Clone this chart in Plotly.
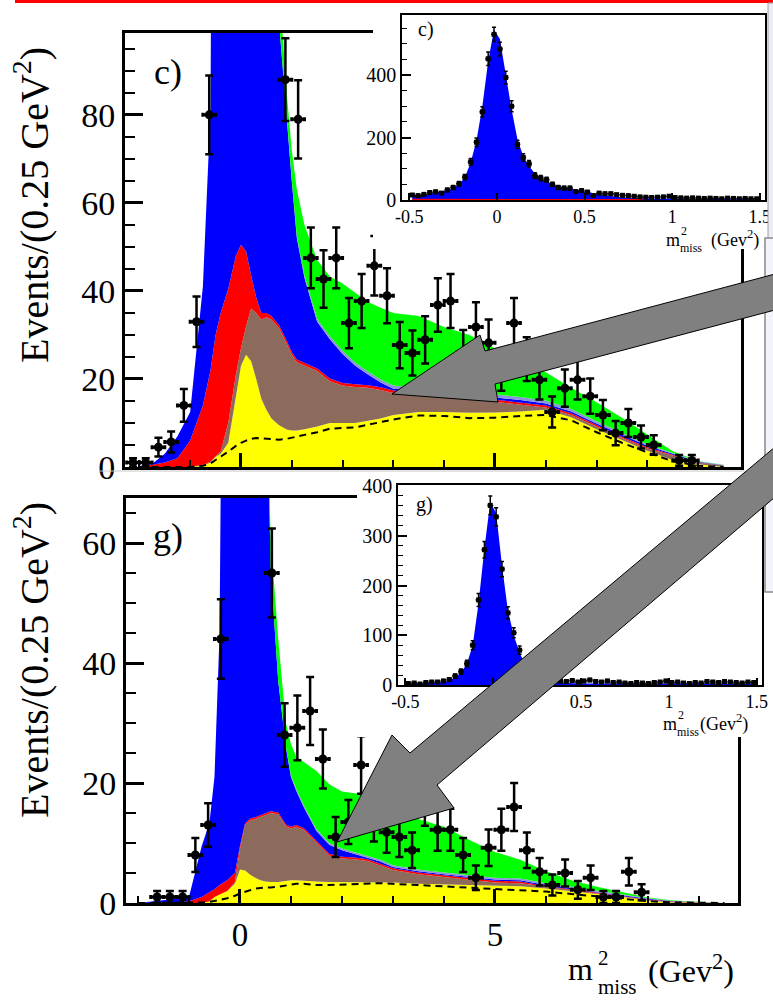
import plotly.graph_objects as go
import numpy as np

W, H = 773, 1001
def fx(p): return p / W
def fy(p): return 1 - p / H

# ---------------- main panels: model components (cumulative stack tops) ----------------
grid_x = [-2.0, -1.75, -1.5, -1.25, -1.0, -0.75, -0.6, -0.5, -0.4, -0.25, -0.1, 0.0, 0.1, 0.2, 0.3,
          0.4, 0.5, 0.6, 0.75, 0.9, 1.0, 1.1, 1.25, 1.5, 1.75, 2.0, 2.25, 2.5, 2.75, 3.0, 3.5, 4.0,
          4.5, 5.0, 5.5, 6.0, 6.5, 7.0, 7.5, 8.0, 8.5, 9.0, 9.5]

# panel c)
c_yellow = [0, 0, 0, 0, 0, 0.3, 1.0, 2.3, 3.0, 5.5, 16, 23, 25.5, 24, 20, 15.5, 13, 11, 9.5, 8.5, 8.3,
            8.3, 8.6, 9.2, 10, 10, 10, 10.5, 11, 11.8, 12.5, 12.5, 12.3, 12.4, 12.6, 13, 11.3, 8.6,
            6.2, 3.7, 1.6, 0.6, 0]
c_brown = [0, 0, 0, 0, 0, 0.5, 1.2, 2.5, 3.5, 10, 21, 27, 32, 36, 35, 33.5, 34, 33.5, 31.5, 28, 25.5,
           23.8, 23, 21.8, 19.5, 18.5, 18.2, 18, 17.5, 16.8, 16.3, 16.1, 15.8, 14.8, 14.2, 13.5, 11.8,
           9.2, 6.6, 4.2, 2.6, 1.0, 0.3]
c_red = [0, 0.5, 1, 2, 6, 14, 22, 30, 35, 40.5, 48, 50.5, 49, 43.5, 38.5, 35, 35, 34.3, 32.2, 28.7,
         26.1, 24.4, 23.6, 22.4, 20.1, 19.1, 18.8, 18.6, 18.1, 17.4, 16.9, 16.7, 16.4, 15.3, 14.7,
         14.0, 12.2, 9.5, 6.9, 4.5, 2.8, 1.1, 0.35]
c_blue = [0.2, 0.7, 3, 7, 12.5, 41, 81, 160, 300, 700, 1300, 1500, 1400, 1100, 800, 500, 300, 180,
          101, 79, 65, 52, 43, 33, 29, 25.7, 23, 21, 19.2, 17.8, 17.3, 17.1, 16.8, 15.8, 15.2, 14.4,
          12.6, 9.9, 7.3, 4.8, 3.0, 1.2, 0.4]
c_band = [0.2, 0.7, 3, 7, 12.5, 41, 81, 160, 300, 700, 1300, 1500, 1400, 1100, 800, 500, 300, 180,
          101, 79, 65.3, 52.4, 43.5, 33.6, 29.7, 26.4, 23.7, 21.7, 19.9, 18.5, 18.0, 17.8, 17.5,
          16.5, 15.9, 15.1, 13.2, 10.4, 7.7, 5.1, 3.2, 1.3, 0.45]
c_green = [0.2, 0.7, 3, 7, 12.5, 41, 81, 160, 300, 700, 1300, 1500, 1400, 1100, 800, 500, 300, 180,
           110, 85, 72, 63, 55, 47, 43.3, 41.7, 39.6, 37.5, 36.2, 35, 34.3, 31.8, 30, 27, 24.5, 21.5,
           18, 14.7, 11.2, 7.3, 3.6, 1.35, 0.5]
c_dash = [0, 0, 0, 0, 0, 0.3, 0.8, 1.6, 2.3, 3.5, 4.8, 5.5, 6.0, 6.4, 6.6, 6.5, 6.4, 6.2, 6.2, 6.4,
          6.6, 6.9, 7.3, 7.9, 8.7, 8.9, 9.0, 9.6, 10.2, 10.8, 11.7, 11.6, 11.1, 11.2, 11.6, 11.8,
          10.6, 7.9, 5.5, 3.3, 1.3, 0.3, 0]

# panel g)
g_yellow = [0, 0, 0, 0, 0, 0, 0.3, 1.0, 1.4, 2.0, 3.2, 5.6, 5.4, 4.7, 4.2, 3.8, 3.6, 3.5, 3.5, 3.7,
            3.8, 3.8, 3.7, 3.6, 3.5, 3.5, 3.5, 3.5, 3.5, 3.4, 3.2, 3.1, 3.0, 2.9, 2.8, 2.4, 2.0, 1.5,
            1.0, 0.4, 0.1, 0, 0]
g_brown = [0, 0, 0, 0, 0, 0, 0.3, 1.0, 1.4, 2.0, 3.5, 9, 13, 13.8, 14, 14.3, 14.6, 15, 14.8, 12.8,
           12.4, 12.7, 12.2, 10, 7.9, 7.4, 7.3, 7, 6.3, 5.5, 4.8, 4.3, 3.8, 3.4, 3.3, 2.7, 2.2, 1.6,
           1.1, 0.5, 0.15, 0.05, 0]
g_red = [0, 0, 0, 0.1, 0.3, 1.0, 1.8, 2.3, 3.0, 3.8, 5.0, 9.5, 13.3, 14.1, 14.3, 14.6, 14.9, 15.3,
         15.1, 13.1, 12.7, 13.0, 12.5, 10.3, 8.2, 7.7, 7.6, 7.3, 6.6, 5.8, 5.1, 4.6, 4.1, 3.7, 3.6,
         2.8, 2.3, 1.7, 1.2, 0.6, 0.25, 0.1, 0]
g_blue = [0, 0.2, 0.4, 0.7, 1.0, 9.5, 13.3, 21, 45, 150, 400, 550, 600, 500, 350, 200, 100, 56, 37,
          26, 21, 18.8, 16, 12, 9.7, 8.8, 8.2, 7.6, 6.9, 6.0, 5.3, 4.8, 4.3, 3.9, 3.8, 3.0, 2.45,
          1.8, 1.3, 0.7, 0.3, 0.12, 0]
g_band = [0, 0.2, 0.4, 0.7, 1.0, 9.5, 13.3, 21, 45, 150, 400, 550, 600, 500, 350, 200, 100, 56, 37,
          26, 21.3, 19.1, 16.3, 12.3, 10.0, 9.1, 8.5, 7.9, 7.2, 6.3, 5.6, 5.1, 4.6, 4.2, 4.1, 3.3,
          2.7, 2.05, 1.5, 0.8, 0.35, 0.13, 0]
g_green = [0, 0.2, 0.4, 0.7, 1.0, 9.5, 13.3, 21, 45, 150, 400, 550, 600, 500, 350, 200, 100, 61, 44,
           30, 26.5, 24.5, 23.5, 22, 19.8, 18.6, 18.3, 18.2, 17.5, 16.2, 14, 12.7, 10.5, 8.5, 7.2,
           5.3, 3.8, 2.7, 1.8, 0.9, 0.4, 0.15, 0]
g_dash = [0, 0, 0, 0, 0, 0.1, 0.2, 0.3, 0.5, 0.8, 1.2, 1.6, 1.9, 2.2, 2.4, 2.5, 2.5, 2.6, 2.7, 2.9,
          3.1, 3.2, 3.2, 3.0, 3.0, 3.1, 3.2, 3.3, 3.3, 3.2, 3.0, 2.8, 2.6, 2.4, 2.2, 1.9, 1.5, 1.1,
          0.7, 0.3, 0.1, 0, 0]

# ---------------- main panels: data points (events / 0.25 GeV^2) ----------------
c_x = [-2.125, -1.875, -1.625, -1.375, -1.125, -0.875, -0.625, -0.375, -0.125, 0.125, 0.375, 0.625,
       0.875, 1.125, 1.375, 1.625, 1.875, 2.125, 2.375, 2.625, 2.875, 3.125, 3.375, 3.625, 3.875,
       4.125, 4.375, 4.625, 4.875, 5.125, 5.375, 5.625, 5.875, 6.125, 6.375, 6.625, 6.875, 7.125,
       7.375, 7.625, 7.875, 8.125, 8.625, 8.875]
c_y = [1, 1, 4.5, 5.7, 14, 33, 80, 190, 780, 820, 330, 140, 88, 79, 47.5, 42.7, 47.5, 32.7, 37.7,
       45.7, 38.9, 27.7, 25.9, 28.9, 36.8, 37.7, 26, 31.8, 28.2, 22, 32.7, 24.5, 19.8, 12.5, 17.9,
       19.8, 16.1, 11.8, 7.7, 10, 6.8, 5, 1.5, 1.5]
g_x = [-1.625, -1.375, -1.125, -0.875, -0.625, -0.375, -0.125, 0.125, 0.375, 0.625, 0.875, 1.125,
       1.375, 1.625, 1.875, 2.125, 2.375, 2.625, 2.875, 3.125, 3.375, 3.625, 3.875, 4.125, 4.375,
       4.625, 4.875, 5.125, 5.375, 5.625, 5.875, 6.125, 6.375, 6.625, 6.875, 7.125, 7.375, 7.625,
       7.875]
g_y = [1, 1, 1, 8, 13, 44, 320, 450, 160, 55, 28, 29.2, 32, 24, 11, 13.5, 23, 14, 11.8, 11, 8.8, 17,
       12.2, 12.2, 8, 4.2, 9.2, 12.2, 16, 8.8, 5.2, 3, 5, 2.2, 4.2, 1, 1, 5.2, 1.8]

# ---------------- insets (fine binning) ----------------
ins_x = list(np.round(np.arange(60) * (2.0 / 60) - 0.5 + 1.0 / 60, 4))
ins_c_y = [16, 14, 18, 24, 26, 22, 32, 40, 52, 73,
           122, 185, 282, 452, 530, 483, 392, 300, 178, 136,
           116, 78, 70, 65, 50, 40, 38, 38, 27, 30,
           25, 14, 22, 20, 20, 17, 15, 14, 12, 10,
           9, 8, 9, 10, 12, 8, 7, 6, 7, 6,
           5, 6, 5, 4, 6, 5, 4, 5, 4, 4]
ins_c_model = [14, 15, 17, 20, 23, 26, 31, 38, 50, 72,
               120, 190, 300, 445, 545, 515, 400, 290, 195, 140,
               108, 85, 70, 60, 50, 44, 40, 36, 32, 28,
               24, 21, 18, 15, 12, 10, 8, 7, 6, 6,
               5, 5, 4, 4, 4, 3, 3, 3, 3, 3,
               3, 2, 2, 2, 2, 2, 2, 2, 2, 2]
ins_c_bkg = [4, 4, 4, 4, 4, 4, 4, 4, 4, 4,
             4, 4, 4, 4, 4, 4, 4, 4, 4, 4,
             4, 4, 4, 4, 4, 4, 4, 4, 4, 4,
             3, 3, 3, 3, 3, 3, 3, 3, 3, 3,
             0, 0, 0, 0, 0, 0, 0, 0, 0, 0,
             0, 0, 0, 0, 0, 0, 0, 0, 0, 0]
ins_g_y = [3, 4, 2, 5, 6, 6, 8, 11, 18, 27,
           43, 80, 171, 272, 361, 338, 233, 145, 105, 70,
           42, 26, 18, 13, 10, 9, 8, 7, 9, 6,
           8, 10, 7, 6, 8, 5, 6, 4, 3, 5,
           4, 3, 5, 6, 8, 5, 6, 4, 3, 5,
           4, 7, 6, 5, 7, 6, 5, 4, 6, 5]
ins_g_model = [3, 3, 3, 4, 4, 5, 6, 9, 15, 25,
               42, 80, 165, 275, 368, 345, 240, 150, 100, 65,
               40, 25, 16, 11, 8, 6, 5, 4, 4, 3,
               3, 3, 3, 3, 3, 3, 3, 3, 3, 3,
               3, 3, 3, 3, 3, 3, 3, 3, 3, 3,
               3, 3, 3, 3, 3, 3, 3, 3, 3, 3]
ins_ticks = [-0.5, 0, 0.5, 1, 1.5]
ins_ticktext = ['-0.5', '0', '0.5', '1', '1.5']

FONT = 'Liberation Serif'
COLORS = {'yellow': '#ffff00', 'brown': '#8c6b5c', 'red': '#ff0000', 'blue': '#0000ff',
          'band': '#8c96d6', 'green': '#00ff00'}

fig = go.Figure()

def add_main(xa, ya, comps, dash, px_, py_):
    first = True
    for name, vals in comps:
        fig.add_trace(go.Scatter(x=grid_x, y=vals, mode='lines', line=dict(width=0),
                                 fill='tozeroy' if first else 'tonexty', fillcolor=COLORS[name],
                                 xaxis=xa, yaxis=ya, hoverinfo='skip'))
        first = False
    fig.add_trace(go.Scatter(x=grid_x, y=dash, mode='lines',
                             line=dict(color='black', width=2, dash='7px,5px'),
                             xaxis=xa, yaxis=ya, hoverinfo='skip'))
    fig.add_trace(go.Scatter(x=px_, y=py_, mode='markers',
                             marker=dict(color='black', size=9, symbol='circle'),
                             error_y=dict(type='sqrt', color='black', thickness=2.5, width=4),
                             error_x=dict(type='constant', value=0.125, color='black', thickness=3, width=2),
                             xaxis=xa, yaxis=ya, hoverinfo='skip'))

def add_cover(xa, ya):
    fig.add_trace(go.Scatter(x=[0, 1, 1, 0, 0], y=[0, 0, 1, 1, 0], mode='lines', fill='toself',
                             fillcolor='white', line=dict(width=0), xaxis=xa, yaxis=ya,
                             hoverinfo='skip'))

def add_inset(xa, ya, model, data, bkg=None):
    fig.add_trace(go.Scatter(x=ins_x, y=model, mode='lines', line=dict(width=0), fill='tozeroy',
                             fillcolor='#0000ff', xaxis=xa, yaxis=ya, hoverinfo='skip'))
    if bkg is not None:
        fig.add_trace(go.Scatter(x=ins_x, y=bkg, mode='lines', line=dict(width=0), fill='tozeroy',
                                 fillcolor='#ff0000', xaxis=xa, yaxis=ya, hoverinfo='skip'))
    fig.add_trace(go.Scatter(x=ins_x, y=data, mode='markers',
                             marker=dict(color='black', size=5, symbol='square'),
                             error_y=dict(type='sqrt', color='black', thickness=1.5, width=2),
                             error_x=dict(type='constant', value=1.0 / 60, color='black', thickness=1.5, width=0),
                             xaxis=xa, yaxis=ya, hoverinfo='skip'))

# order matters for layering: main c, cover c, inset c, main g, cover g, inset g
add_main('x', 'y', [('yellow', c_yellow), ('brown', c_brown), ('red', c_red), ('blue', c_blue),
                    ('band', c_band), ('green', c_green)], c_dash, c_x, c_y)
add_cover('x2', 'y2')
add_inset('x3', 'y3', ins_c_model, ins_c_y, ins_c_bkg)
add_main('x4', 'y4', [('yellow', g_yellow), ('brown', g_brown), ('red', g_red), ('blue', g_blue),
                      ('band', g_band), ('green', g_green)], g_dash, g_x, g_y)
add_cover('x5', 'y5')
add_inset('x6', 'y6', ins_g_model, ins_g_y)

def main_xaxis(dom, rng, anchor, labels):
    return dict(domain=dom, range=rng, anchor=anchor, showline=True, linecolor='black', linewidth=3,
                mirror=True, ticks='inside', ticklen=14, tickwidth=2.5, tickcolor='black', dtick=5,
                tick0=0, minor=dict(ticks='inside', dtick=1, ticklen=7, tickwidth=2, tickcolor='black'),
                showgrid=False, zeroline=False, showticklabels=labels, automargin=False,
                tickfont=dict(family=FONT, size=33, color='black'), fixedrange=True)

def main_yaxis(dom, rng, anchor):
    return dict(domain=dom, range=rng, anchor=anchor, showline=True, linecolor='black', linewidth=3,
                mirror=True, ticks='inside', ticklen=18, tickwidth=2.5, tickcolor='black', dtick=20,
                tick0=0, minor=dict(ticks='inside', dtick=5, ticklen=10, tickwidth=2, tickcolor='black'),
                showgrid=False, zeroline=False, tickfont=dict(family=FONT, size=34, color='black'),
                automargin=False, fixedrange=True)

def cover_axis(dom, anchor):
    return dict(domain=dom, range=[0, 1], anchor=anchor, visible=False, showgrid=False,
                zeroline=False, fixedrange=True, automargin=False)

def ins_xaxis(dom, anchor):
    return dict(domain=dom, range=[-0.542, 1.53], anchor=anchor, showline=True, linecolor='black',
                linewidth=1.5, mirror=True, ticks='inside', ticklen=7, tickwidth=1.5,
                tickcolor='black', tickmode='array', tickvals=ins_ticks, ticktext=ins_ticktext,
                showgrid=False, zeroline=False, tickfont=dict(family=FONT, size=18, color='black'),
                automargin=False, fixedrange=True)

def ins_yaxis(dom, rng, anchor, dt, mdt):
    return dict(domain=dom, range=rng, anchor=anchor, showline=True, linecolor='black',
                linewidth=1.5, mirror=True, ticks='inside', ticklen=9, tickwidth=1.5,
                tickcolor='black', dtick=dt, tick0=0,
                minor=dict(ticks='inside', dtick=mdt, ticklen=5, tickwidth=1.2, tickcolor='black'),
                showgrid=False, zeroline=False, tickfont=dict(family=FONT, size=20, color='black'),
                automargin=False, fixedrange=True)

fig.update_layout(
    width=W, height=H, margin=dict(l=0, r=0, t=0, b=0, autoexpand=False), showlegend=False,
    paper_bgcolor='white', plot_bgcolor='white', font=dict(family=FONT, color='black'),
    xaxis=main_xaxis([fx(125), fx(741)], [-2.283, 9.843], 'y', False),
    yaxis=main_yaxis([fy(467), fy(33)], [0, 98.6], 'x'),
    xaxis2=cover_axis([fx(373), fx(767)], 'y2'),
    yaxis2=cover_axis([fy(249), fy(4)], 'x2'),
    xaxis3=ins_xaxis([fx(402), fx(765)], 'y3'),
    yaxis3=ins_yaxis([fy(200), fy(15)], [0, 592], 'x3', 200, 50),
    xaxis4=main_xaxis([fx(126), fx(738)], [-2.235, 9.765], 'y4', True),
    yaxis4=main_yaxis([fy(903), fy(498)], [0, 67.5], 'x4'),
    xaxis5=cover_axis([fx(357), fx(764)], 'y5'),
    yaxis5=cover_axis([fy(737), fy(475)], 'x5'),
    xaxis6=ins_xaxis([fx(398), fx(762)], 'y6'),
    yaxis6=ins_yaxis([fy(685), fy(485)], [0, 402], 'x6', 100, 20),
)

ann = []
def text(t, x, y, size, xanchor='center', yanchor='middle', angle=0):
    ann.append(dict(text=t, x=fx(x), y=fy(y), xref='paper', yref='paper', showarrow=False,
                    xanchor=xanchor, yanchor=yanchor, textangle=angle,
                    font=dict(family=FONT, size=size, color='black')))

# axis titles
text('Events/(0.25 GeV<sup>2</sup>)', 31, 205, 40, angle=-90)
text('Events/(0.25 GeV<sup>2</sup>)', 31, 660, 40, angle=-90)
text('m', 566, 969, 32, xanchor='left')
text('2', 596, 958, 21, xanchor='left')
text('miss', 596, 987, 21, xanchor='left')
text('(Gev<sup>2</sup>)', 646, 969, 32, xanchor='left')
# inset c x title
text('m', 664, 240, 18, xanchor='left')
text('2', 679, 231, 12, xanchor='left')
text('miss', 678, 248, 12, xanchor='left')
text('(Gev<sup>2</sup>)', 709, 239, 18, xanchor='left')
# inset g x title
text('m', 661, 724, 18, xanchor='left')
text('2', 676, 715, 12, xanchor='left')
text('miss', 675, 732, 12, xanchor='left')
text('(Gev<sup>2</sup>)', 698, 723, 18, xanchor='left')
# panel labels
text('c)', 168, 72, 36)
text('g)', 168, 536, 36)
text('c)', 426, 29, 20)
text('g)', 424, 504, 20)
fig.update_layout(annotations=ann)

def path(pts):
    s = 'M ' + ' L '.join(f'{fx(a):.5f},{fy(b):.5f}' for a, b in pts) + ' Z'
    return s

shapes = [
    dict(type='rect', xref='paper', yref='paper', x0=fx(15), x1=fx(773), y0=fy(3), y1=fy(0),
         fillcolor='#ff0000', line=dict(width=0), layer='above'),
    dict(type='rect', xref='paper', yref='paper', x0=fx(768), x1=fx(776), y0=fy(250), y1=fy(3),
         fillcolor='#ececf4', line=dict(color='#a0a0a0', width=1), layer='above'),
    dict(type='line', xref='paper', yref='paper', x0=fx(100), x1=fx(745), y0=fy(471), y1=fy(471),
         line=dict(color='#c8c8c8', width=1), layer='above'),
    dict(type='rect', xref='paper', yref='paper', x0=fx(765), x1=fx(785), y0=fy(592), y1=fy(238),
         fillcolor='#f3f3fb', line=dict(color='#8a8a8a', width=1.5), layer='above'),
    dict(type='path', xref='paper', yref='paper',
         path=path([(392, 394), (480, 335), (485, 351), (775, 274), (775, 310), (495, 384), (498, 402)]),
         fillcolor='#808080', line=dict(color='black', width=1), layer='above'),
    dict(type='path', xref='paper', yref='paper',
         path=path([(337, 842), (392, 735), (410, 753), (775, 447), (775, 497), (437, 785), (454, 808)]),
         fillcolor='#808080', line=dict(color='black', width=1), layer='above'),
]
fig.update_layout(shapes=shapes)

fig.write_html('out.html', config={'displayModeBar': False})
